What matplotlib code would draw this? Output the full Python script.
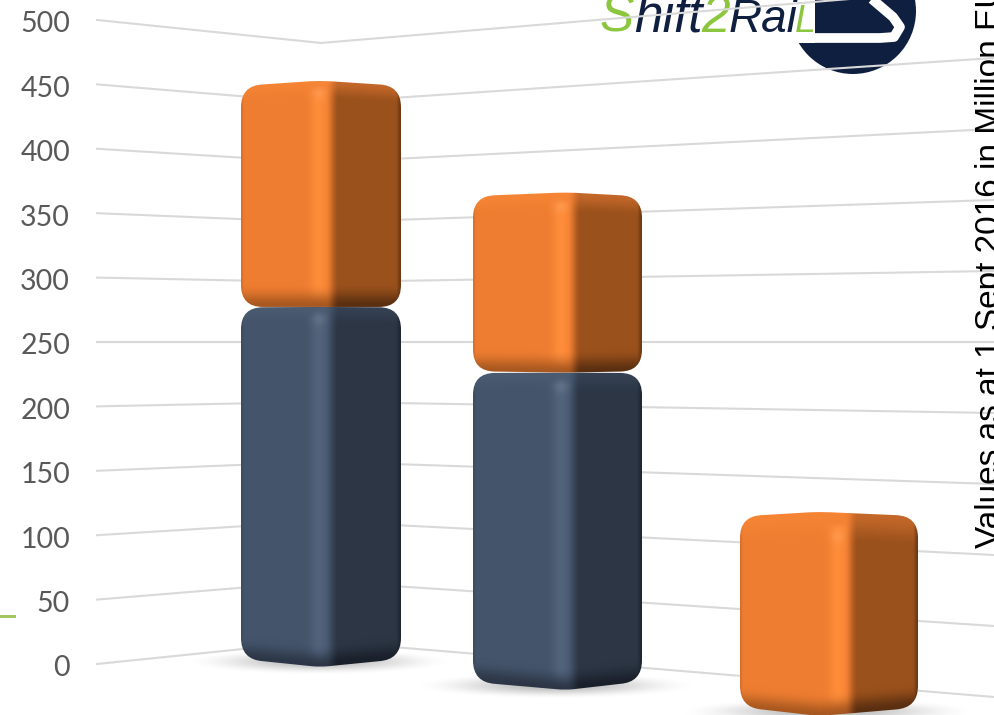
import numpy as np
import matplotlib
matplotlib.use("Agg")
import matplotlib.pyplot as plt
from matplotlib.path import Path
from matplotlib.patches import Circle, Rectangle
from matplotlib.transforms import ScaledTranslation

# chart values (million EUR)
tick_values = [0, 50, 100, 150, 200, 250, 300, 350, 400, 450, 500]
lower_values = [277, 229, 0]
upper_values = [174, 130, 137]

# layout of the three columns
bar_left = [241, 473, 740]
bar_right = [401, 642, 918]
bar_corner = [319, 561, 838]   # bright front edge
bar_peak = [320, 565, 820]     # highest point of the top
bar_base = [-2.3, -20.2, -40.4]
bar_scale = [1.009, 1.076, 1.157]
bar_spot = [12, 14, 25]        # distance of the highlight below the top

ORANGE = dict(left=(238, 125, 49), high=(255, 141, 58), right=(154, 81, 28),
              right_top=(196, 104, 42), left_bot=(168, 88, 32), right_bot=(90, 47, 17))
NAVY = dict(left=(68, 84, 106), high=(82, 99, 124), right=(44, 54, 69),
            right_top=(54, 66, 84), left_bot=(44, 54, 70), right_bot=(26, 32, 42))

PX = 1.288        # pixels per axis unit
HORIZON = 277.0   # axis height where the column ends look flat
PIVOT = 250.0     # gridline that stays level across both walls
RADIUS = 22.0     # corner rounding in pixels


def smooth(t):
    t = np.clip(t, 0, 1)
    return t * t * (3 - 2 * t)


def mix(a, b, t):
    return a + (b - a) * t[..., None]


def drop_at(y):
    return 0.02 * abs(y - HORIZON)


def top_drop(y):
    # tops always show their back corner, except right at eye height
    if abs(y - HORIZON) < 60:
        return 0.3
    return max(drop_at(y), 3.5 / PX)


def outline(xl, xr, xc, y0, y1):
    """Rounded silhouette of one segment, y0 bottom and y1 top at the front corner"""
    rx, ry = RADIUS, RADIUS / PX
    d0, d1 = drop_at(y0), top_drop(y1)
    top_edge = y1 - d1
    bot_edge = y0 + d0 if y0 < HORIZON else y0 - d0
    verts = [(xl, bot_edge + ry), (xl, top_edge - ry),
             (xl, top_edge), (xl + rx, top_edge + d1 * 0.2),
             (xc - 10, y1 - d1 * 0.1), (xc, y1), (xc + 10, y1 - d1 * 0.1),
             (xr - rx, top_edge + d1 * 0.2), (xr, top_edge), (xr, top_edge - ry),
             (xr, bot_edge + ry), (xr, bot_edge), (xr - rx, bot_edge - d0 * 0.2),
             (xc + 8, y0 + d0 * 0.1), (xc, y0), (xc - 8, y0 + d0 * 0.1),
             (xl + rx, bot_edge - d0 * 0.2), (xl, bot_edge), (xl, bot_edge + ry)]
    codes = [Path.MOVETO, Path.LINETO,
             Path.CURVE3, Path.CURVE3,
             Path.LINETO, Path.CURVE3, Path.CURVE3,
             Path.LINETO, Path.CURVE3, Path.CURVE3,
             Path.LINETO, Path.CURVE3, Path.CURVE3,
             Path.LINETO, Path.CURVE3, Path.CURVE3,
             Path.LINETO, Path.CURVE3, Path.CURVE3]
    return Path(verts, codes)


def shade(xl, xr, xc, xp, y0, y1, spot, pal):
    """RGB array of a segment: two faces, bright corner, top and bottom bevels"""
    height = (y1 - y0) * PX
    w, h = int((xr - xl) * 2), int(height * 2)
    xs = np.linspace(xl, xr, w)
    ys = np.linspace(0, height, h)
    X, Y = np.meshgrid(xs, ys)
    half = (xr - xl) / 2
    edge = np.abs(X - xp) / half

    dtop = Y - edge * top_drop(y1) * PX
    dbot = height - Y - edge * drop_at(y0) * PX
    bevel_top = 1 - smooth(dtop / (spot + 8))
    bevel_bot = 1 - smooth(dbot / 24)

    c = {k: np.array(v, float) for k, v in pal.items()}
    left = mix(np.ones(X.shape + (3,)) * c["left"], np.ones(3) * c["high"], bevel_top * 0.45)
    band = np.exp(-((X - xc) / 9) ** 2) * smooth((Y - spot * 0.4) / 8)
    left = mix(left, np.ones(3) * c["high"], band)
    left = mix(left, np.ones(3) * c["left_bot"], bevel_bot ** 1.3)
    right = mix(np.ones(X.shape + (3,)) * c["right"], np.ones(3) * c["right_top"], bevel_top)
    right = mix(right, np.ones(3) * c["right_bot"], bevel_bot ** 1.2)
    # the outer edges fall off into shadow
    right = mix(right, np.ones(3) * c["right_bot"], smooth((X - (xr - 5)) / 5) * 0.7)
    left = mix(left, np.ones(3) * c["right"], smooth(((xl + 3) - X) / 3) * 0.3)

    blob = np.exp(-((X - xc) / 7) ** 2 - ((Y - spot) / 7) ** 2)
    left = mix(left, np.array([255, 255, 255.0]) * 0.4 + c["high"] * 0.6, blob * 0.22)

    t = smooth((X - (xc + 7)) / 13)
    return np.clip(mix(left, right, t), 0, 255).astype(np.uint8)


def draw_segment(ax, i, start, value, pal):
    if value <= 0:
        return
    y0 = bar_base[i] + start * bar_scale[i]
    y1 = bar_base[i] + (start + value) * bar_scale[i]
    xl, xr, xc, xp = bar_left[i], bar_right[i], bar_corner[i], bar_peak[i]
    im = ax.imshow(shade(xl, xr, xc, xp, y0, y1, bar_spot[i], pal), extent=(xl, xr, y0, y1),
                   origin="upper", aspect="auto", interpolation="bilinear", zorder=4)
    im.set_clip_path(outline(xl, xr, xp, y0, y1), ax.transData)


def draw_shadow(ax, i):
    cx = (bar_left[i] + bar_right[i]) / 2 - 2
    cy = bar_base[i] + 4.5 / PX
    wx, wy = (bar_right[i] - bar_left[i]) * 0.85, 13 / PX
    X, Y = np.meshgrid(np.linspace(-1, 1, 300), np.linspace(-1, 1, 60))
    rgba = np.zeros(X.shape + (4,))
    rgba[..., :3] = 0.6
    rgba[..., 3] = 0.7 * (1 - smooth(np.hypot(X, Y)))
    ax.imshow(rgba, extent=(cx - wx, cx + wx, cy - wy, cy + wy), aspect="auto",
              interpolation="bilinear", zorder=3)


fig = plt.figure(figsize=(9.94, 7.15), dpi=100)

# logo sits behind the chart, in plain pixel coordinates
logo = fig.add_axes([0, 0, 1, 1], zorder=0)
logo.set_xlim(0, 994)
logo.set_ylim(715, 0)
logo.axis("off")
logo.add_patch(Circle((853, 11), 63, color="#0F1F40", lw=0))
logo.add_patch(Rectangle((780, -5), 35, 48, color="white", lw=0))
logo.plot([800, 880, 894, 900, 893, 866], [38, 38, 37, 27, 17, -6],
          color="white", lw=7, solid_capstyle="butt", solid_joinstyle="round")
green, dark = "#8CC63F", "#0F1F40"
for word, x, col, size in [("S", 600, green, 37), ("hift", 634, dark, 37), ("2", 701, green, 37),
                           ("Rai", 729, dark, 33), ("L", 795, green, 27)]:
    logo.text(x, 32, word, color=col, fontsize=size, style="italic", family="Liberation Sans",
              va="baseline", ha="left")
logo.add_patch(Rectangle((0, 615), 16, 3, color="#A4C560", lw=0))

ax = fig.add_axes([0, 0, 1, 1], zorder=1)
ax.patch.set_alpha(0)

# back walls meet at the first column, gridlines bend there
for v in tick_values:
    ax.plot([97, 321, 994],
            [v, PIVOT + (v - PIVOT) * 0.9286, PIVOT + (v - PIVOT) * 1.1025],
            color="#D9D9D9", lw=1.5, zorder=1, solid_joinstyle="miter")

for i in range(3):
    draw_shadow(ax, i)
    draw_segment(ax, i, 0, lower_values[i], NAVY)
    draw_segment(ax, i, lower_values[i], upper_values[i], ORANGE)

ax.set_xlim(0, 994)
ax.set_ylim(-39.6, 515.5)
ax.set_xticks([])
ax.set_yticks(tick_values)
ax.set_yticklabels([str(v) for v in tick_values], family="Lato", fontsize=20.5, color="#595959")
ax.tick_params(axis="y", length=0, direction="in", pad=-50.4)
for lbl in ax.get_yticklabels():
    lbl.set_transform(lbl.get_transform() + ScaledTranslation(0, -2 / 100, fig.dpi_scale_trans))
for s in ax.spines.values():
    s.set_visible(False)

ax.text(999 / 994, 0.2335, "Values as at 1 Sept 2016 in Million EUR", transform=ax.transAxes,
        rotation=90, family="Liberation Sans", fontsize=24, color="black",
        ha="left", va="baseline", rotation_mode="anchor", clip_on=False)

fig.savefig("out.png", dpi=100)
